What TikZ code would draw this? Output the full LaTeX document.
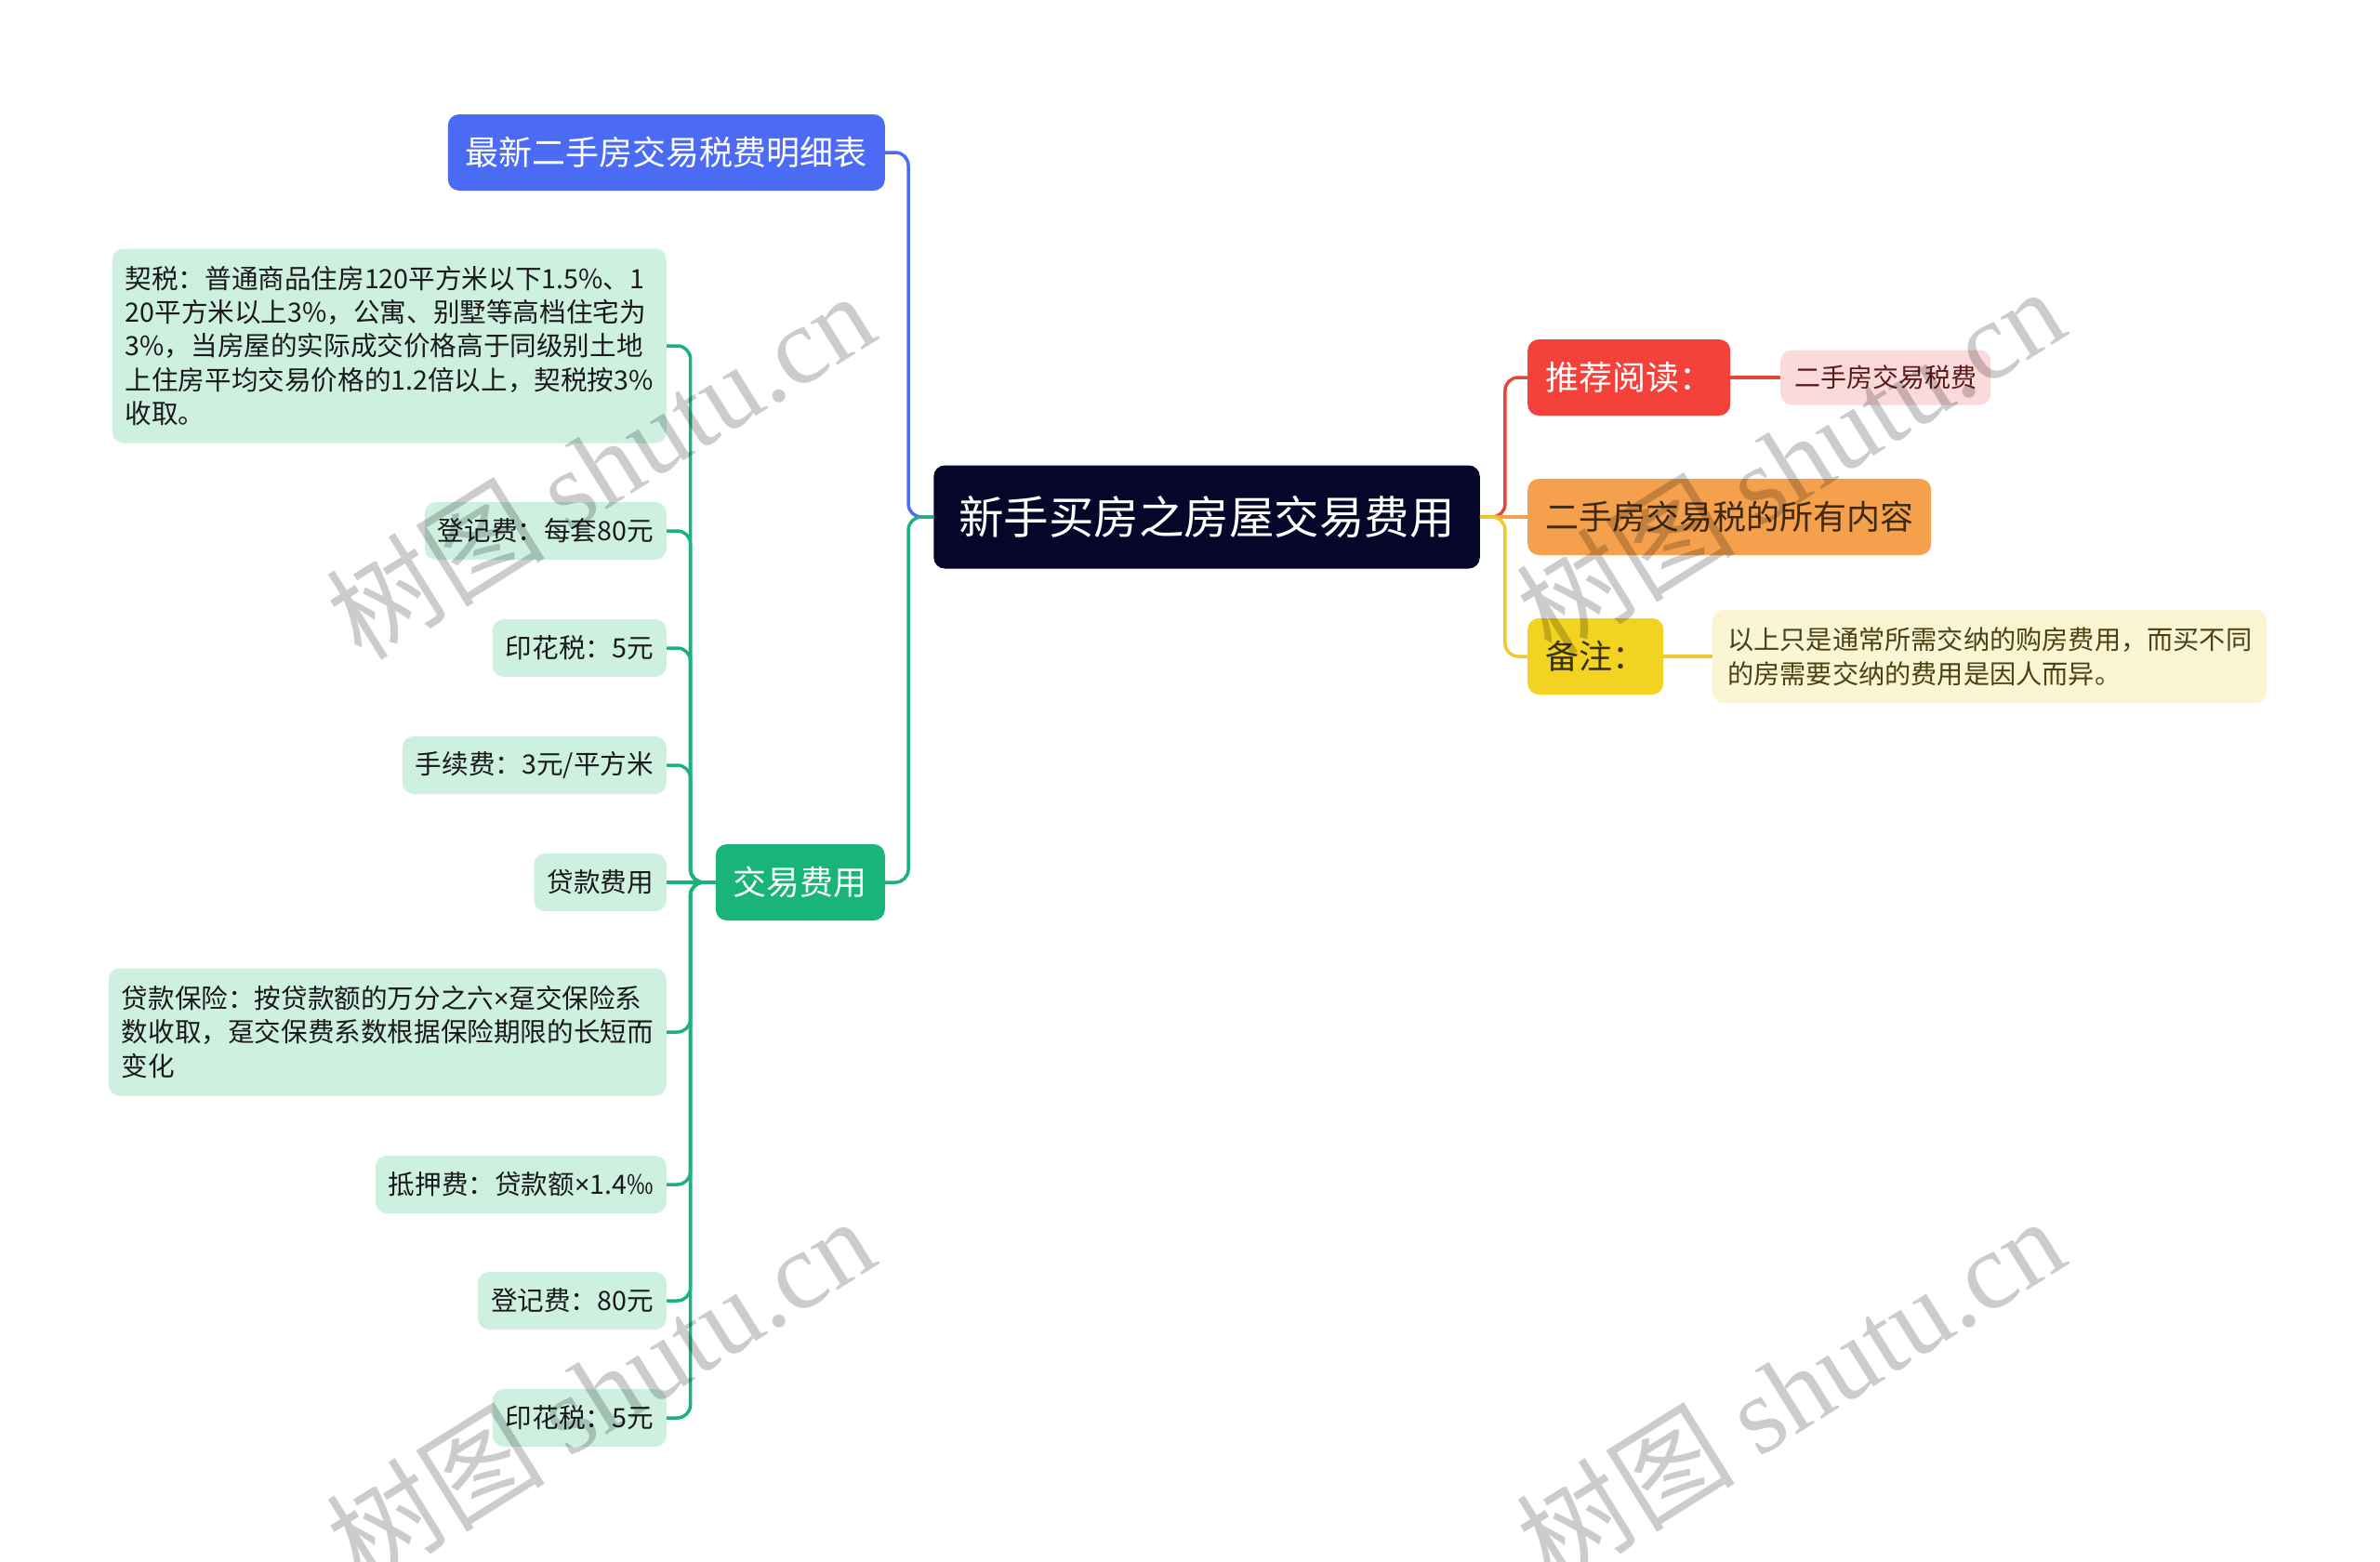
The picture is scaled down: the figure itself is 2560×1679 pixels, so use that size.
\documentclass[tikz,border=0pt]{standalone}
\usepackage{fontspec}
\setmainfont{Noto Sans CJK SC}
\newfontfamily\cjk{Noto Sans CJK SC}
\newfontfamily\wmlatin{Liberation Serif}
\newfontfamily\latinsans{Noto Sans}
\newcommand{\tms}{{\latinsans ×}}
\definecolor{cRoot}{HTML}{06062B}
\definecolor{cBlue}{HTML}{4B6BF5}
\definecolor{cGreen}{HTML}{18B47A}
\definecolor{cLeaf}{HTML}{CDF0E1}
\definecolor{cLeafText}{HTML}{1A1A1A}
\definecolor{cRed}{HTML}{F4413A}
\definecolor{cRedLine}{HTML}{E5463A}
\definecolor{cPink}{HTML}{FADADB}
\definecolor{cPinkText}{HTML}{5C1A1A}
\definecolor{cOrange}{HTML}{F4A04C}
\definecolor{cOrangeText}{HTML}{3D2A12}
\definecolor{cYellow}{HTML}{F2D321}
\definecolor{cYellowLine}{HTML}{F0C92E}
\definecolor{cYellowText}{HTML}{3A3310}
\definecolor{cNote}{HTML}{FCF5D4}
\definecolor{cNoteText}{HTML}{4A4212}
\tikzset{
  base/.style={rounded corners=12pt, inner ysep=0pt, align=center},
  rootbox/.style={base, fill=cRoot, text=white, font=\fontsize{48.5}{58}\selectfont, minimum height=111pt, inner xsep=27pt},
  lvone/.style={base, font=\fontsize{36}{44}\selectfont, minimum height=82pt, inner xsep=19pt},
  leaf/.style={base, fill=cLeaf, text=cLeafText, font=\fontsize{28.6}{36.3}\selectfont, minimum height=62pt, inner xsep=14pt, anchor=east},
  conn/.style={line width=3.5pt, rounded corners=14pt},
  wm/.style={text=black, text opacity=0.2, font=\fontsize{118}{120}\selectfont, rotate=32}
}
\begin{document}
\begin{tikzpicture}[x=1pt,y=-1pt]
\useasboundingbox (0,0) rectangle (2560,1679);
\fill[white] (0,0) rectangle (2560,1679);

% main nodes
\node[rootbox] (root) at (1298,556) {新手买房之房屋交易费用};
\node[lvone, fill=cBlue, text=white, anchor=east] (blue) at (952,164) {最新二手房交易税费明细表};
\node[lvone, fill=cGreen, text=white, anchor=east] (jy) at (952,949) {交易费用};
\node[lvone, fill=cRed, text=white, anchor=west] (tj) at (1643,406) {推荐阅读：};
\node[lvone, fill=cOrange, text=cOrangeText, anchor=west] (og) at (1643,556) {二手房交易税的所有内容};
\node[lvone, fill=cYellow, text=cYellowText, anchor=west] (bz) at (1643,706) {备注：};
\node[base, fill=cPink, text=cPinkText, font=\fontsize{28}{36}\selectfont, minimum height=59pt, inner xsep=15pt, anchor=west] (pk) at (1915,406) {二手房交易税费};
\node[base, align=left, fill=cNote, text=cNoteText, font=\fontsize{28.2}{37.5}\selectfont, minimum height=100pt, inner xsep=16pt, anchor=west] (note) at (1842,706) {以上只是通常所需交纳的购房费用，而买不同\\的房需要交纳的费用是因人而异。};

% leaves
\node[leaf, align=left, minimum height=209pt] (l1) at (717,372) {契税：普通商品住房120平方米以下1.5\%、1\\20平方米以上3\%，公寓、别墅等高档住宅为\\3\%，当房屋的实际成交价格高于同级别土地\\上住房平均交易价格的1.2倍以上，契税按3\%\\收取。};
\node[leaf] (l2) at (717,571) {登记费：每套80元};
\node[leaf] (l3) at (717,697) {印花税：5元};
\node[leaf] (l4) at (717,823) {手续费：3元/平方米};
\node[leaf] (l5) at (717,949) {贷款费用};
\node[leaf, align=left, minimum height=137pt] (l6) at (717,1110) {贷款保险：按贷款额的万分之六\tms 趸交保险系\\数收取，趸交保费系数根据保险期限的长短而\\变化};
\node[leaf] (l7) at (717,1274) {抵押费：贷款额\tms 1.4‰};
\node[leaf] (l8) at (717,1399) {登记费：80元};
\node[leaf] (l9) at (717,1525) {印花税：5元};

% connectors
\draw[conn, cBlue] (root.west) -- ++(-27,0) |- (blue.east);
\draw[conn, cGreen] (root.west) -- ++(-27,0) |- (jy.east);
\foreach \n in {l1,l2,l3,l4,l6,l7,l8,l9}
  \draw[conn, cGreen] (jy.west) -- ++(-27,0) |- (\n.east);
\draw[conn, cGreen] (jy.west) -- (l5.east);
\draw[conn, cRedLine] (root.east) -- ++(27,0) |- (tj.west);
\draw[conn, cOrange] (root.east) -- (og.west);
\draw[conn, cYellowLine] (root.east) -- ++(27,0) |- (bz.west);
\draw[conn, cRedLine] (tj.east) -- (pk.west);
\draw[conn, cYellowLine] (bz.east) -- (note.west);

% watermarks
\node[wm] (wm1) at (645,500) {\cjk 树图 \wmlatin shutu.cn};
\node[wm] (wm2) at (1925,495) {\cjk 树图 \wmlatin shutu.cn};
\node[wm] (wm3) at (645,1495) {\cjk 树图 \wmlatin shutu.cn};
\node[wm] (wm4) at (1925,1495) {\cjk 树图 \wmlatin shutu.cn};
\end{tikzpicture}
\end{document}
